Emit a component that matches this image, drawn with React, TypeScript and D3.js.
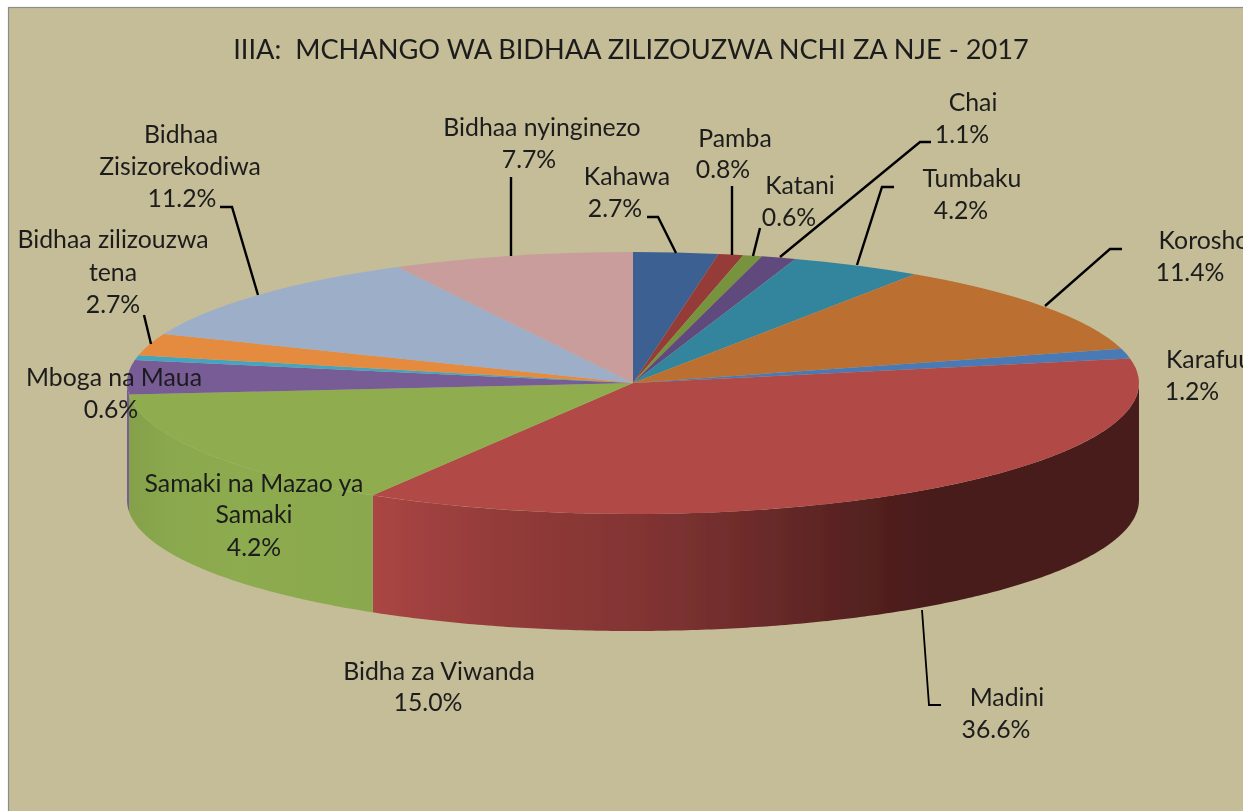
import React from "react";
import * as d3 from "d3";

// ---- data ----
const categories = ["Kahawa","Pamba","Katani","Chai","Tumbaku","Korosho","Karafuu","Madini","Bidha za Viwanda","Samaki na Mazao ya Samaki","Mboga na Maua","Bidhaa zilizouzwa tena","Bidhaa Zisizorekodiwa","Bidhaa nyinginezo"];
const shares = [2.7,0.8,0.6,1.1,4.2,11.4,1.2,36.6,15.0,4.2,0.6,2.7,11.2,7.7];
const sliceColors = ["#3b6191","#953b39","#77933c","#604a7b","#31859c","#bb6f30","#4a7ab5","#b14947","#8fad4f","#775b96","#45a5c0","#e58b3f","#9daec9","#c99d9c"];
const title = "IIIA:  MCHANGO WA BIDHAA ZILIZOUZWA NCHI ZA NJE - 2017";

// ---- layout ----
const W = 1243, H = 811;
const cx = 633, cy = 383, rx = 506, ry = 131, depth = 117;
const BG = "#c4bd97";
const TEXT = "#1c1c1c";
const FONT = "Lato, 'Open Sans', sans-serif";
const LABEL_SIZE = 24.8;

type Line = [string, number, number];
const labelLines: Line[] = [
  ["Chai", 973, 111], ["1.1%", 962, 143],
  ["Tumbaku", 972, 187], ["4.2%", 961, 219],
  ["Katani", 800, 194], ["0.6%", 789, 226],
  ["Pamba", 735, 147], ["0.8%", 723, 178],
  ["Kahawa", 627, 185], ["2.7%", 615, 217],
  ["Bidhaa nyinginezo", 542, 136], ["7.7%", 529, 168],
  ["Bidhaa", 181, 143], ["Zisizorekodiwa", 180, 175], ["11.2%", 182, 207],
  ["Bidhaa zilizouzwa", 113, 248], ["tena", 113, 281], ["2.7%", 113, 313],
  ["Mboga na Maua", 114, 386], ["0.6%", 111, 418],
  ["Samaki na Mazao ya", 254, 492], ["Samaki", 254, 523], ["4.2%", 254, 556],
  ["Bidha za Viwanda", 439, 680], ["15.0%", 428, 711],
  ["Korosho", 1204, 249], ["11.4%", 1190, 281],
  ["Karafuu", 1209, 368], ["1.2%", 1192, 400],
  ["Madini", 1007, 706], ["36.6%", 996, 738],
];

const leaders: [number, number][][] = [
  [[511,177],[511,256]],
  [[647,217],[658,217],[676,253]],
  [[732,186],[732,255]],
  [[760,228],[753,256]],
  [[931,142],[920,142],[780,257]],
  [[894,187],[882,187],[857,265]],
  [[1122,249],[1110,249],[1045,306]],
  [[220,207],[232,207],[258,295]],
  [[144,315],[151,344]],
  [[922,610],[929,705],[941,705]],
];

const madiniStops: [number, string][] = [[370,"#aa4644"],[500,"#933b39"],[640,"#823433"],[760,"#6b2b2a"],[860,"#552120"],[930,"#4a1c1c"],[1139,"#4a1c1c"]];
const greenStops: [number, string][] = [[127,"#84a14a"],[170,"#8aa84d"],[240,"#8dab4f"],[370,"#8aa84d"]];

const slices = d3.pie<number>().value(d => d).sort(null)(shares);
const arcGen = d3.arc<d3.PieArcDatum<number>>().innerRadius(0).outerRadius(rx);
const yScale = ry / rx;

const wallLine = d3.line<[number, number]>();
function wallPath(a0: number, a1: number) {
  const from = Math.max(a0, Math.PI / 2), to = Math.min(a1, (3 * Math.PI) / 2);
  if (from >= to) return null;
  const n = Math.ceil((to - from) / 0.01);
  const angles = d3.range(n + 1).map(i => from + ((to - from) * i) / n);
  const top = angles.map(a => [cx + rx * Math.sin(a), cy - ry * Math.cos(a)] as [number, number]);
  const bottom = top.slice().reverse().map(([x, y]) => [x, y + depth] as [number, number]);
  return wallLine([...top, ...bottom]) + "Z";
}
const leaderLine = d3.line<[number, number]>();

function Gradient({ id, stops }: { id: string; stops: [number, string][] }) {
  const x0 = stops[0][0], x1 = stops[stops.length - 1][0];
  return (
    <linearGradient id={id} gradientUnits="userSpaceOnUse" x1={x0} x2={x1} y1={0} y2={0}>
      {stops.map(([x, c], i) => <stop key={i} offset={(x - x0) / (x1 - x0)} stopColor={c} />)}
    </linearGradient>
  );
}

export default function App() {
  return (
    <svg width={W} height={H} viewBox={`0 0 ${W} ${H}`} style={{ position: "absolute", left: 0, top: 0, display: "block", background: "#fff" }}>
      <defs>
        <Gradient id="madini" stops={madiniStops} />
        <Gradient id="green" stops={greenStops} />
        <filter id="soft" x="-5%" y="-5%" width="110%" height="110%"><feGaussianBlur stdDeviation="0.45" /></filter>
      </defs>
      <rect x={8.5} y={7.5} width={W} height={H} fill={BG} stroke="#8c8c8c" strokeWidth={1.2} />
      <g filter="url(#soft)">
        {slices.map((s, i) => {
          const d = wallPath(s.startAngle, s.endAngle);
          if (!d) return null;
          const fill = categories[i] === "Madini" ? "url(#madini)" : categories[i] === "Bidha za Viwanda" ? "url(#green)" : sliceColors[i];
          return <path key={i} d={d} fill={fill} />;
        })}
        <g transform={`translate(${cx},${cy}) scale(1,${yScale})`}>
          {slices.map((s, i) => <path key={i} d={arcGen(s) as string} fill={sliceColors[i]} />)}
        </g>
        {leaders.map((pts, i) => (
          <path key={i} d={leaderLine(pts) as string} fill="none" stroke="#000" strokeWidth={i === leaders.length - 1 ? 1.8 : 2.4} />
        ))}
        <text x={631} y={59} textAnchor="middle" fontFamily={FONT} fontSize={27.2} fill={TEXT} style={{ whiteSpace: "pre" }}>{title}</text>
        {labelLines.map(([t, x, y], i) => (
          <text key={i} x={x} y={y} textAnchor="middle" fontFamily={FONT} fontSize={LABEL_SIZE} fill={TEXT}>{t}</text>
        ))}
      </g>
    </svg>
  );
}
